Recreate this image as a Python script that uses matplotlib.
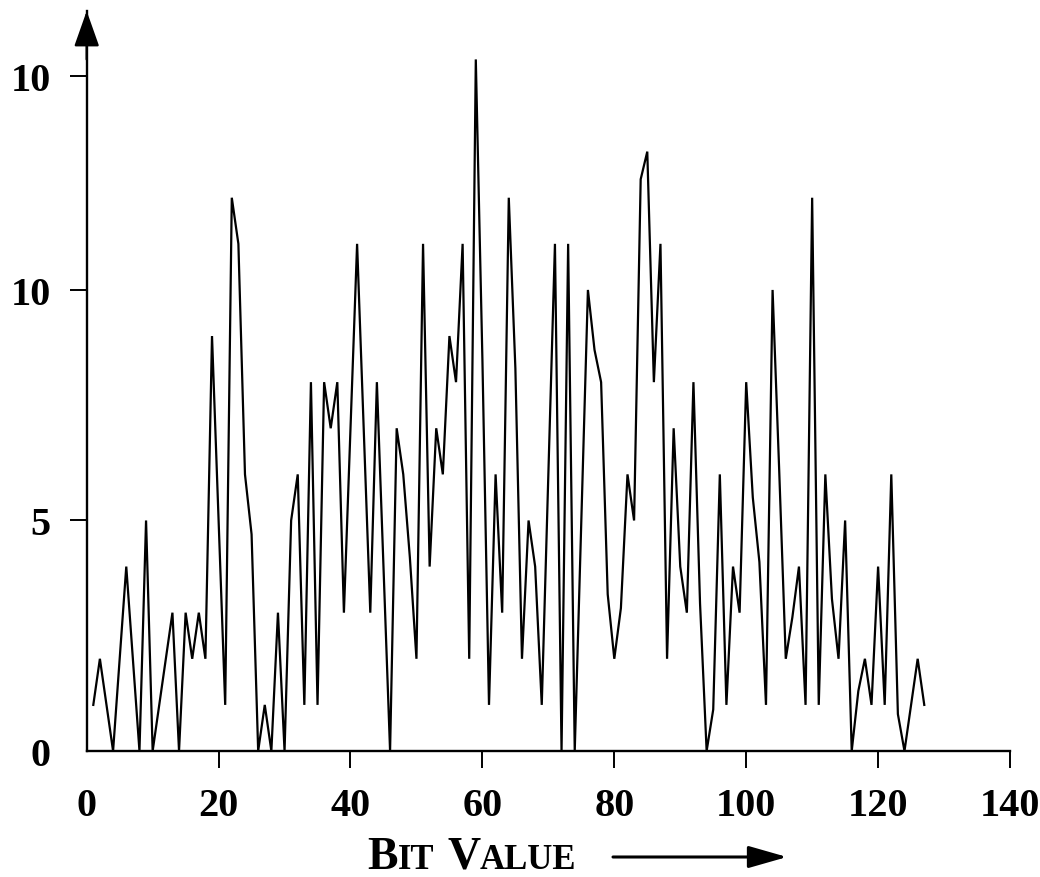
import matplotlib
matplotlib.use("Agg")
import matplotlib.pyplot as plt
from matplotlib.transforms import IdentityTransform

plt.rcParams["font.family"] = ["Liberation Serif", "DejaVu Serif"]
plt.rcParams["font.weight"] = "bold"

# occurrences per bit value
bit_values = list(range(1, 128))
counts = [
    1, 2, 1, 0, 2, 4, 2, 0, 5, 0,
    1, 2, 3, 0, 3, 2, 3, 2, 9, 5,
    1, 12, 11, 6, 4.7, 0, 1, 0, 3, 0,
    5, 6, 1, 8, 1, 8, 7, 8, 3, 7,
    11, 7, 3, 8, 4, 0, 7, 6, 4.2, 2,
    11, 4, 7, 6, 9, 8, 11, 2, 15, 8.5,
    1, 6, 3, 12, 8.3, 2, 5, 4, 1, 6,
    11, 0, 11, 0, 5, 10, 8.7, 8, 3.4, 2,
    3.1, 6, 5, 12.4, 13, 8, 11, 2, 7, 4,
    3, 8, 3.2, 0, 0.9, 6, 1, 4, 3, 8,
    5.5, 4.1, 1, 10, 6.1, 2, 2.9, 4, 1, 12,
    1, 6, 3.3, 2, 5, 0, 1.3, 2, 1, 4,
    1, 6, 0.8, 0, 1, 2, 1,
]

x_ticks = [0, 20, 40, 60, 80, 100, 120, 140]
x_tick_labels = ["0", "20", "40", "60", "80", "100", "120", "140"]
y_ticks = [0, 5, 10, 14.64]
y_tick_labels = ["0", "5", "10", "10"]

W, H = 1040, 878
fig = plt.figure(figsize=(W / 100, H / 100), dpi=100)
ax = fig.add_axes([86.7 / W, 1 - 752 / H, (1010 - 86.7) / W, (752 - 12) / H])

ax.plot(bit_values, counts, color="black", lw=1.6, solid_joinstyle="miter")
ax.set_xlim(0, 140)
ax.set_ylim(0, 16.05)

for side in ("top", "right"):
    ax.spines[side].set_visible(False)
for side in ("left", "bottom"):
    ax.spines[side].set_linewidth(1.7)

ax.set_xticks(x_ticks)
ax.set_xticklabels(x_tick_labels)
ax.set_yticks(y_ticks)
ax.set_yticklabels(y_tick_labels)
ax.tick_params(axis="both", direction="out", length=12, width=1.4,
               labelsize=29, color="black")
ax.tick_params(axis="x", pad=14)
ax.tick_params(axis="y", pad=14)
# no tick mark at the origin on either axis
ax.xaxis.get_major_ticks()[0].tick1line.set_visible(False)
ax.yaxis.get_major_ticks()[0].tick1line.set_visible(False)

# arrowhead on top of the y axis
ax.annotate("", xy=(0, 16.05), xytext=(0, 15.0),
            xycoords="data", annotation_clip=False,
            arrowprops=dict(arrowstyle="-|>,head_length=1.3,head_width=0.46",
                            mutation_scale=17, lw=1.7, color="black",
                            shrinkA=0, shrinkB=0))

# axis title in small capitals, placed piece by piece in pixel units
renderer = fig.canvas.get_renderer()
big, small = 33, 25
x_pos, base = 367, H - 869
pieces = [("B", big), ("IT", small), (None, 13), ("V", big), ("ALUE", small)]
for text, size in pieces:
    if text is None:
        x_pos += size
        continue
    t = fig.text(x_pos, base, text, fontsize=size, fontweight="bold",
                 va="baseline", ha="left", transform=IdentityTransform())
    x_pos += t.get_window_extent(renderer).width

fig.add_artist(plt.Annotation(
    "", xy=(787, H - 858), xytext=(613, H - 858),
    xycoords="figure pixels", textcoords="figure pixels",
    arrowprops=dict(arrowstyle="-|>,head_length=1.4,head_width=0.4",
                    mutation_scale=17, lw=2.2, color="black",
                    shrinkA=0, shrinkB=0)))

fig.savefig("out.png", dpi=100, facecolor="white")
